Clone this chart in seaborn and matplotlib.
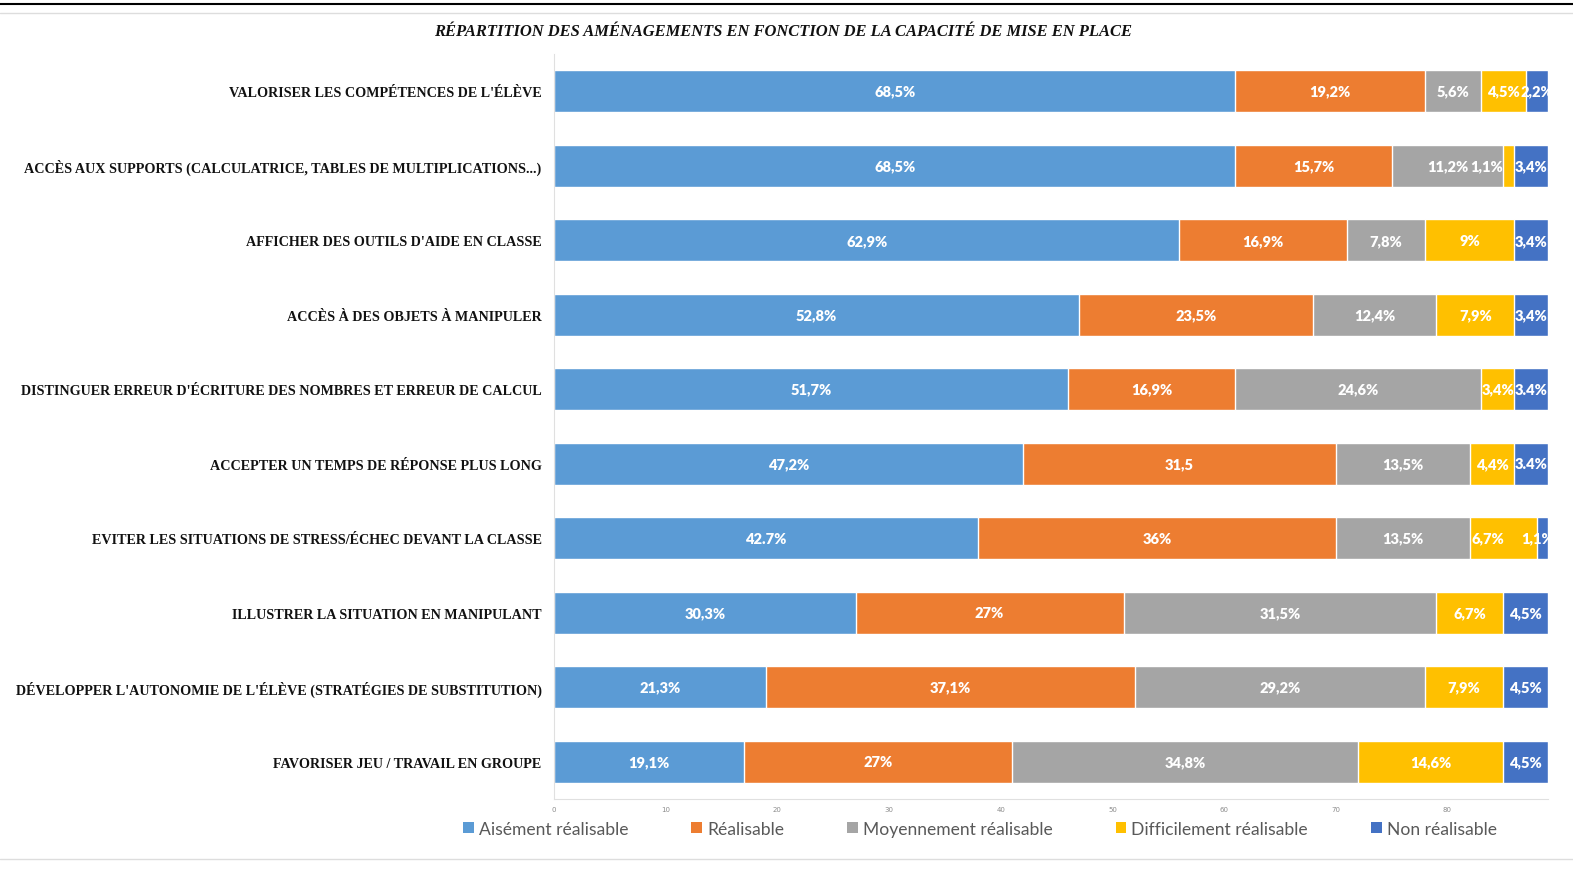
import numpy as np
import pandas as pd
import matplotlib
matplotlib.use('Agg')
import matplotlib.pyplot as plt
import seaborn as sns
from matplotlib.lines import Line2D
from matplotlib.patches import Patch

sns.set_style('white')

# counts out of 89 answers (the axis shows counts, labels show percentages)
amenagements = [
    "VALORISER LES COMPÉTENCES DE L'ÉLÈVE",
    "ACCÈS AUX SUPPORTS (CALCULATRICE, TABLES DE MULTIPLICATIONS...)",
    "AFFICHER DES OUTILS D'AIDE EN CLASSE",
    "ACCÈS À DES OBJETS À MANIPULER",
    "DISTINGUER ERREUR D'ÉCRITURE DES NOMBRES ET ERREUR DE CALCUL",
    "ACCEPTER UN TEMPS DE RÉPONSE PLUS LONG",
    "EVITER LES SITUATIONS DE STRESS/ÉCHEC DEVANT LA CLASSE",
    "ILLUSTRER LA SITUATION EN MANIPULANT",
    "DÉVELOPPER L'AUTONOMIE DE L'ÉLÈVE (STRATÉGIES DE SUBSTITUTION)",
    "FAVORISER JEU / TRAVAIL EN GROUPE",
]
niveaux = ["Aisément réalisable", "Réalisable", "Moyennement réalisable",
           "Difficilement réalisable", "Non réalisable"]
aisement = [61, 61, 56, 47, 46, 42, 38, 27, 19, 17]
realisable = [17, 14, 15, 21, 15, 28, 32, 24, 33, 24]
moyennement = [5, 10, 7, 11, 22, 12, 12, 28, 26, 31]
difficilement = [4, 1, 8, 7, 3, 4, 6, 6, 7, 13]
non_realisable = [2, 3, 3, 3, 3, 3, 1, 4, 4, 4]

lab_aisement = ["68,5%", "68,5%", "62,9%", "52,8%", "51,7%", "47,2%", "42.7%", "30,3%", "21,3%", "19,1%"]
lab_realisable = ["19,2%", "15,7%", "16,9%", "23,5%", "16,9%", "31,5", "36%", "27%", "37,1%", "27%"]
lab_moyennement = ["5,6%", "11,2%", "7,8%", "12,4%", "24,6%", "13,5%", "13,5%", "31,5%", "29,2%", "34,8%"]
lab_difficilement = ["4,5%", "1,1%", "9%", "7,9%", "3,4%", "4,4%", "6,7%", "6,7%", "7,9%", "14,6%"]
lab_non = ["2,2%", "3,4%", "3,4%", "3,4%", "3.4%", "3.4%", "1,1%", "4,5%", "4,5%", "4,5%"]

colors = ['#5B9BD5', '#ED7D31', '#A5A5A5', '#FFC000', '#4472C4']

df = pd.DataFrame({
    'amenagement': amenagements,
    niveaux[0]: aisement,
    niveaux[1]: realisable,
    niveaux[2]: moyennement,
    niveaux[3]: difficilement,
    niveaux[4]: non_realisable,
})
cum = df[niveaux].cumsum(axis=1)
labels = [lab_aisement, lab_realisable, lab_moyennement, lab_difficilement, lab_non]
# labels nudged sideways in the original where segments are thin: (level, row) -> shift
decalage = {(3, 1): -2.0, (3, 6): -1.4, (4, 6): -0.4}

fig = plt.figure(figsize=(15.73, 8.70), dpi=100)
ax = fig.add_axes([554 / 1573, 1 - 800 / 870, (1548 - 554) / 1573, (800 - 55) / 870])

# draw cumulative totals from the last level down so segments stack
for i in range(len(niveaux) - 1, -1, -1):
    sns.barplot(x=cum[niveaux[i]], y=df['amenagement'], color=colors[i],
                orient='h', width=0.56, ax=ax, saturation=1)

for i in range(len(niveaux)):
    starts = cum[niveaux[i]] - df[niveaux[i]]
    for j in range(len(df)):
        xc = starts[j] + df[niveaux[i]][j] / 2 + decalage.get((i, j), 0)
        ax.text(xc, j, labels[i][j], ha='center', va='center', color='white',
                fontsize=10.5, fontweight='heavy', family='Lato')

ax.set_xlim(0, 89)
ax.set_ylim(9.5, -0.5)
ax.set_xlabel('')
ax.set_ylabel('')
ax.set_xticks(range(0, 81, 10))
ax.tick_params(axis='x', labelsize=5, colors='#8c8c8c', length=0, pad=5)
ax.tick_params(axis='y', length=0, pad=9)
for lab in ax.get_yticklabels():
    lab.set_family('Liberation Serif')
    lab.set_fontweight('bold')
    lab.set_fontsize(10.2)
    lab.set_color('#111111')
for s in ['top', 'right']:
    ax.spines[s].set_visible(False)
ax.spines['left'].set_color('#e0e0e0')
ax.spines['bottom'].set_color('#e0e0e0')
ax.spines['left'].set_linewidth(0.8)
ax.spines['bottom'].set_linewidth(0.8)

fig.text(783 / 1573, 1 - 32 / 870, "RÉPARTITION DES AMÉNAGEMENTS EN FONCTION DE LA CAPACITÉ DE MISE EN PLACE",
         ha='center', va='center', family='Liberation Serif', fontstyle='italic',
         fontweight='bold', fontsize=11.9, color='#111111')

handles = [Patch(facecolor=c, edgecolor='none') for c in colors]
fig.legend(handles, niveaux, loc='center', bbox_to_anchor=(980 / 1573, 1 - 830 / 870),
           ncol=5, frameon=False, handlelength=0.6, handleheight=0.6, handletextpad=0.3,
           columnspacing=3.6, prop={'family': 'Lato', 'size': 12.6}, labelcolor='#595959')

fig.add_artist(Line2D([0, 1], [1 - 5 / 870, 1 - 5 / 870], color='black', lw=1.5))
fig.add_artist(Line2D([0, 1], [1 - 14 / 870, 1 - 14 / 870], color='#dddddd', lw=1))
fig.add_artist(Line2D([0, 1], [1 - 860 / 870, 1 - 860 / 870], color='#dddddd', lw=1))

plt.savefig('out.png', dpi=100)
